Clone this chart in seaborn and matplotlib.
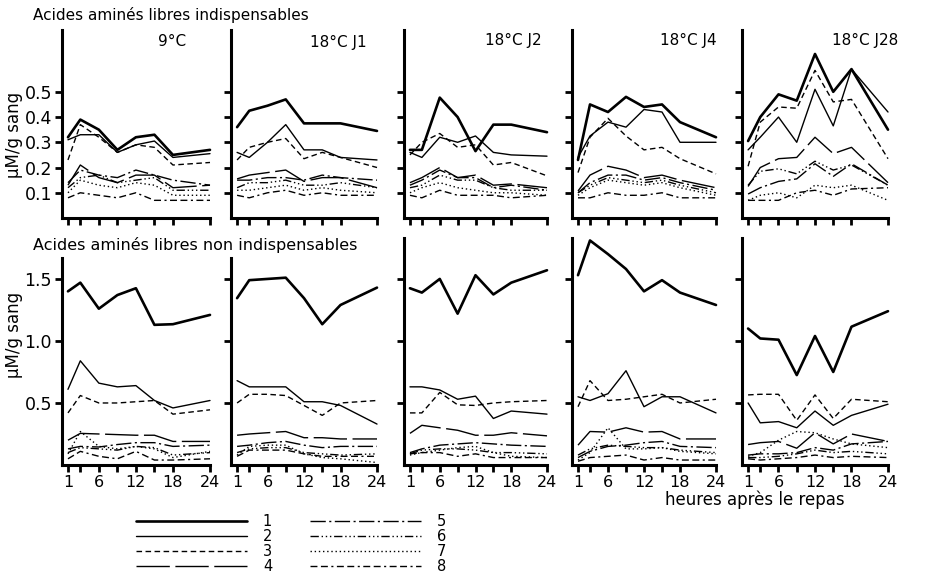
import matplotlib
matplotlib.use("Agg")
import matplotlib.pyplot as plt
import numpy as np
import pandas as pd
import seaborn as sns
from matplotlib.lines import Line2D

# ---------------- data ----------------
hours = [1, 3, 6, 9, 12, 15, 18, 24]
xtick_labels = ["1", "", "6", "", "12", "", "18", "24"]
series_names = ["1", "2", "3", "4", "5", "6", "7", "8"]
conditions = ["9°C", "18°C J1", "18°C J2", "18°C J4", "18°C J28"]
groups = ["Acides aminés libres indispensables",
          "Acides aminés libres non indispensables"]

# indispensables (top row), one list per series 1..8
ind_9C = [
    [0.32, 0.39, 0.35, 0.27, 0.32, 0.33, 0.25, 0.27],
    [0.31, 0.33, 0.33, 0.26, 0.29, 0.305, 0.24, 0.255],
    [0.23, 0.37, 0.32, 0.26, 0.29, 0.28, 0.21, 0.22],
    [0.13, 0.21, 0.16, 0.14, 0.17, 0.17, 0.12, 0.13],
    [0.14, 0.19, 0.17, 0.16, 0.19, 0.17, 0.15, 0.13],
    [0.12, 0.16, 0.17, 0.14, 0.15, 0.16, 0.11, 0.11],
    [0.10, 0.15, 0.13, 0.12, 0.14, 0.13, 0.09, 0.09],
    [0.08, 0.10, 0.09, 0.08, 0.10, 0.07, 0.07, 0.07],
]
ind_J1 = [
    [0.36, 0.425, 0.445, 0.47, 0.375, 0.375, 0.375, 0.345],
    [0.26, 0.24, 0.30, 0.37, 0.27, 0.27, 0.24, 0.23],
    [0.23, 0.28, 0.30, 0.315, 0.235, 0.26, 0.24, 0.20],
    [0.155, 0.17, 0.18, 0.19, 0.145, 0.16, 0.16, 0.12],
    [0.15, 0.15, 0.16, 0.16, 0.15, 0.17, 0.16, 0.15],
    [0.12, 0.14, 0.14, 0.15, 0.13, 0.13, 0.14, 0.12],
    [0.11, 0.11, 0.12, 0.13, 0.11, 0.12, 0.11, 0.10],
    [0.09, 0.08, 0.10, 0.11, 0.09, 0.10, 0.09, 0.09],
]
ind_J2 = [
    [0.27, 0.27, 0.477, 0.40, 0.265, 0.37, 0.37, 0.34],
    [0.26, 0.24, 0.32, 0.30, 0.325, 0.26, 0.25, 0.245],
    [0.25, 0.30, 0.335, 0.28, 0.29, 0.21, 0.22, 0.167],
    [0.14, 0.16, 0.20, 0.16, 0.17, 0.13, 0.135, 0.12],
    [0.13, 0.15, 0.19, 0.16, 0.16, 0.12, 0.13, 0.11],
    [0.12, 0.13, 0.17, 0.15, 0.15, 0.12, 0.11, 0.11],
    [0.10, 0.12, 0.14, 0.12, 0.11, 0.10, 0.10, 0.09],
    [0.09, 0.08, 0.11, 0.09, 0.09, 0.09, 0.08, 0.09],
]
ind_J4 = [
    [0.23, 0.45, 0.42, 0.48, 0.44, 0.45, 0.38, 0.32],
    [0.24, 0.325, 0.38, 0.36, 0.43, 0.42, 0.30, 0.30],
    [0.18, 0.32, 0.395, 0.325, 0.27, 0.28, 0.235, 0.175],
    [0.107, 0.17, 0.205, 0.19, 0.16, 0.17, 0.15, 0.12],
    [0.10, 0.14, 0.17, 0.17, 0.15, 0.16, 0.14, 0.11],
    [0.10, 0.13, 0.16, 0.15, 0.14, 0.15, 0.13, 0.10],
    [0.09, 0.12, 0.15, 0.14, 0.13, 0.14, 0.12, 0.09],
    [0.08, 0.08, 0.10, 0.09, 0.09, 0.10, 0.08, 0.08],
]
ind_J28 = [
    [0.305, 0.40, 0.49, 0.465, 0.65, 0.50, 0.59, 0.35],
    [0.27, 0.32, 0.40, 0.30, 0.51, 0.365, 0.59, 0.42],
    [0.205, 0.38, 0.44, 0.435, 0.585, 0.46, 0.47, 0.235],
    [0.125, 0.20, 0.235, 0.24, 0.32, 0.255, 0.28, 0.14],
    [0.095, 0.12, 0.145, 0.155, 0.215, 0.165, 0.215, 0.13],
    [0.13, 0.185, 0.195, 0.175, 0.225, 0.19, 0.21, 0.13],
    [0.07, 0.09, 0.10, 0.08, 0.13, 0.12, 0.13, 0.07],
    [0.07, 0.07, 0.07, 0.10, 0.11, 0.09, 0.115, 0.12],
]
# non indispensables (bottom row)
non_9C = [
    [1.40, 1.47, 1.26, 1.37, 1.425, 1.13, 1.135, 1.21],
    [0.61, 0.84, 0.66, 0.63, 0.64, 0.52, 0.46, 0.52],
    [0.42, 0.56, 0.50, 0.50, 0.51, 0.52, 0.41, 0.445],
    [0.20, 0.255, 0.25, 0.245, 0.24, 0.24, 0.19, 0.19],
    [0.13, 0.15, 0.145, 0.165, 0.18, 0.18, 0.15, 0.16],
    [0.10, 0.14, 0.13, 0.12, 0.15, 0.14, 0.08, 0.10],
    [0.09, 0.27, 0.15, 0.13, 0.15, 0.13, 0.06, 0.11],
    [0.05, 0.11, 0.07, 0.05, 0.11, 0.04, 0.04, 0.05],
]
non_J1 = [
    [1.345, 1.49, 1.50, 1.51, 1.345, 1.135, 1.29, 1.43],
    [0.68, 0.63, 0.63, 0.63, 0.51, 0.51, 0.48, 0.33],
    [0.50, 0.57, 0.57, 0.56, 0.48, 0.40, 0.50, 0.52],
    [0.24, 0.25, 0.26, 0.27, 0.22, 0.22, 0.21, 0.21],
    [0.15, 0.16, 0.18, 0.19, 0.16, 0.14, 0.15, 0.15],
    [0.10, 0.13, 0.14, 0.14, 0.10, 0.09, 0.08, 0.09],
    [0.08, 0.15, 0.16, 0.16, 0.09, 0.06, 0.05, 0.02],
    [0.07, 0.12, 0.12, 0.12, 0.09, 0.07, 0.07, 0.07],
]
non_J2 = [
    [1.425, 1.39, 1.50, 1.22, 1.53, 1.375, 1.47, 1.57],
    [0.63, 0.63, 0.605, 0.53, 0.555, 0.375, 0.435, 0.41],
    [0.42, 0.42, 0.585, 0.485, 0.48, 0.50, 0.51, 0.52],
    [0.255, 0.32, 0.30, 0.28, 0.24, 0.24, 0.26, 0.235],
    [0.10, 0.13, 0.16, 0.17, 0.18, 0.17, 0.16, 0.15],
    [0.09, 0.12, 0.13, 0.13, 0.12, 0.10, 0.10, 0.09],
    [0.08, 0.10, 0.12, 0.14, 0.15, 0.10, 0.07, 0.06],
    [0.09, 0.10, 0.10, 0.07, 0.09, 0.06, 0.06, 0.06],
]
non_J4 = [
    [1.53, 1.81, 1.70, 1.58, 1.40, 1.49, 1.39, 1.29],
    [0.55, 0.52, 0.575, 0.76, 0.47, 0.55, 0.55, 0.42],
    [0.47, 0.68, 0.52, 0.53, 0.55, 0.57, 0.50, 0.53],
    [0.16, 0.27, 0.265, 0.30, 0.265, 0.27, 0.21, 0.21],
    [0.06, 0.11, 0.15, 0.16, 0.18, 0.19, 0.15, 0.14],
    [0.08, 0.13, 0.16, 0.15, 0.14, 0.14, 0.12, 0.10],
    [0.04, 0.10, 0.30, 0.13, 0.13, 0.14, 0.11, 0.09],
    [0.03, 0.06, 0.07, 0.08, 0.04, 0.06, 0.04, 0.04],
]
non_J28 = [
    [1.10, 1.02, 1.01, 0.725, 1.04, 0.75, 1.115, 1.24],
    [0.50, 0.34, 0.35, 0.30, 0.435, 0.32, 0.40, 0.49],
    [0.565, 0.57, 0.57, 0.36, 0.565, 0.375, 0.53, 0.51],
    [0.165, 0.18, 0.19, 0.135, 0.26, 0.17, 0.25, 0.19],
    [0.08, 0.09, 0.09, 0.10, 0.14, 0.12, 0.17, 0.19],
    [0.06, 0.06, 0.07, 0.09, 0.12, 0.10, 0.11, 0.09],
    [0.07, 0.10, 0.20, 0.27, 0.26, 0.21, 0.17, 0.14],
    [0.05, 0.04, 0.05, 0.06, 0.08, 0.06, 0.07, 0.06],
]

top_panels = [ind_9C, ind_J1, ind_J2, ind_J4, ind_J28]
bottom_panels = [non_9C, non_J1, non_J2, non_J4, non_J28]

# ---------------- table ----------------
rows = []
for g, panels in zip(groups, [top_panels, bottom_panels]):
    for cond, panel in zip(conditions, panels):
        for name, vals in zip(series_names, panel):
            for h, v in zip(hours, vals):
                rows.append((g, cond, name, h, v))
df = pd.DataFrame(rows, columns=["group", "condition", "series", "hour", "value"])

# ---------------- styles ----------------
sns.set_theme(style="ticks")
plt.rcParams["font.family"] = ["DejaVu Sans"]
for key in ["text.color", "axes.labelcolor", "xtick.color", "ytick.color",
            "axes.edgecolor"]:
    plt.rcParams[key] = "black"

palette = {s: "black" for s in series_names}
dashes = {
    "1": "",
    "2": "",
    "3": (4, 2.5),
    "4": (24, 4),
    "5": (11, 2.5, 1.5, 2.5),
    "6": (6, 2, 1, 2, 1, 2, 1, 2),
    "7": (1, 2),
    "8": (5, 2.5, 5, 2.5, 1.5, 2.5),
}
sizes = {"1": 1.9, "2": 1.0, "3": 1.0, "4": 1.0, "5": 1.0, "6": 1.0, "7": 1.0, "8": 1.0}

fig = plt.figure(figsize=(9.29, 5.75), dpi=100)
W, H = 929, 575
lefts = [61.8, 231, 404, 572, 742]
rights = [210, 377, 547, 716, 888]
rows_px = [(30, 218), (238, 465)]
ylims = [(0, 0.745), (0, 1.83)]
yticks = [[0.1, 0.2, 0.3, 0.4, 0.5], [0.5, 1.0, 1.5]]
ytick_labels = [["0.1", "0.2", "0.3", "0.4", "0.5"], ["0.5", "1.0", "1.5"]]

for r, (g, (ytop, ybot)) in enumerate(zip(groups, rows_px)):
    for c, cond in enumerate(conditions):
        ax = fig.add_axes([lefts[c] / W, 1 - ybot / H,
                           (rights[c] - lefts[c]) / W, (ybot - ytop) / H])
        sub = df[(df.group == g) & (df.condition == cond)]
        sns.lineplot(data=sub, x="hour", y="value", hue="series", style="series",
                     size="series", palette=palette, dashes=dashes, sizes=sizes,
                     estimator=None, sort=False, legend=False, ax=ax, clip_on=False)
        ax.set_xlim(0, 24)
        ax.set_ylim(*ylims[r])
        ax.set_xticks(hours)
        ax.set_yticks(yticks[r])
        ax.set_xlabel("")
        ax.set_ylabel("")
        sns.despine(ax=ax)
        for sp in ["left", "bottom"]:
            ax.spines[sp].set_linewidth(2.2)
            ax.spines[sp].set_color("black")
        ax.tick_params(axis="both", direction="out", length=5, width=2,
                       color="black", labelcolor="black", labelsize=12, pad=2)
        ax.set_facecolor("white")
        if r == 1:
            ax.set_xticklabels(xtick_labels, fontsize=11.5)
        else:
            ax.set_xticklabels([])
        if c == 0:
            ax.set_yticklabels(ytick_labels[r], fontsize=12.5)
        else:
            ax.set_yticklabels([])
        if r == 1 and c < 2:
            ax.spines["left"].set_bounds(0, 1.67)

# ---------------- texts ----------------
fig.text(33 / W, 1 - 15 / H, groups[0], fontsize=11, ha="left", va="center")
fig.text(33 / W, 1 - 245 / H, groups[1], fontsize=11.5, ha="left", va="center")
title_centers = [(172, 42), (338, 42), (513, 40), (688, 40), (865, 40)]
for cond, (tx, ty) in zip(conditions, title_centers):
    fig.text(tx / W, 1 - ty / H, cond, fontsize=11, ha="center", va="center")
fig.text(14 / W, 1 - 135 / H, "μM/g sang", fontsize=12, rotation=90,
         ha="center", va="center")
fig.text(14 / W, 1 - 335 / H, "μM/g sang", fontsize=12, rotation=90,
         ha="center", va="center")
fig.text(755 / W, 1 - 500 / H, "heures après le repas", fontsize=12,
         ha="center", va="center")

# ---------------- legend ----------------
handles = [Line2D([], [], color="black", lw=sizes[s],
                  linestyle=(0, dashes[s]) if dashes[s] else "-")
           for s in series_names]
fig.legend(handles, series_names, ncol=2, loc="upper left",
           bbox_to_anchor=(136 / W, 1 - 514 / H), frameon=False,
           fontsize=10.5, handlelength=7.6, handletextpad=1.1,
           columnspacing=2.6, labelspacing=0.0, borderaxespad=0.0,
           borderpad=0.0)

fig.savefig("out.png", dpi=100, facecolor="white")
